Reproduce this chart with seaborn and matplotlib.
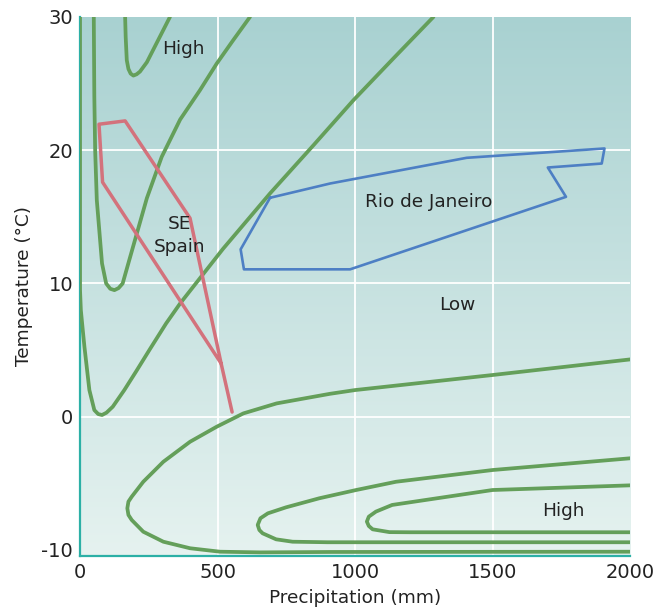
import numpy as np
import pandas as pd
import matplotlib
matplotlib.use("Agg")
import matplotlib.pyplot as plt
import seaborn as sns

# contour lines (precipitation mm, temperature C)
u_left_x = [50, 52, 55, 61, 70, 80, 95, 110, 125, 140, 155, 179, 210, 243, 297, 364, 436, 497, 555, 618]
u_left_y = [30, 24, 20, 16.25, 14, 11.5, 10, 9.6, 9.5, 9.65, 10, 11.75, 14, 16.4, 19.5, 22.3, 24.5, 26.5, 28.2, 30]

u_top_x = [164, 166, 170, 176, 184, 194, 206, 218, 243, 285, 327]
u_top_y = [30, 28.5, 26.75, 26.1, 25.75, 25.6, 25.7, 25.9, 26.6, 28.3, 30]

diag_x = [0, 0, 3, 10, 16, 34, 52, 66, 80, 96, 119, 161, 204, 255, 313, 364, 520, 691, 850, 994, 1140, 1285]
diag_y = [30, 9.5, 8.0, 6.5, 5.25, 2.0, 0.5, 0.2, 0.13, 0.3, 0.75, 2.0, 3.4, 5.1, 7.0, 8.5, 12.6, 16.76, 20.4, 23.75, 26.9, 30]

big_x = [2000, 1500, 1000, 909, 715, 594, 497, 400, 303, 230, 188, 176, 172, 176, 188, 230, 303, 400, 509, 655, 909, 2000]
big_y = [4.3, 3.13, 2.0, 1.72, 1.0, 0.25, -0.75, -1.88, -3.38, -4.88, -6.0, -6.37, -6.87, -7.37, -7.75, -8.63, -9.38, -9.87, -10.13, -10.18, -10.15, -10.13]

mid_x = [2000, 1500, 1149, 1004, 870, 749, 683, 656, 646, 652, 664, 713, 773, 900, 2000]
mid_y = [-3.12, -4.0, -4.88, -5.5, -6.12, -6.8, -7.25, -7.62, -8.12, -8.5, -8.75, -9.2, -9.38, -9.42, -9.42]

inner_x = [2000, 1500, 1135, 1076, 1050, 1043, 1050, 1064, 1125, 1200, 2000]
inner_y = [-5.15, -5.5, -6.62, -7.12, -7.5, -7.87, -8.2, -8.45, -8.66, -8.67, -8.67]

spain_x = [553, 513, 400, 164, 69, 82, 513]
spain_y = [0.35, 4.0, 14.9, 22.2, 21.95, 17.6, 4.0]

rio_x = [691, 909, 1406, 1907, 1897, 1701, 1767, 982, 596, 584, 691]
rio_y = [16.43, 17.5, 19.43, 20.13, 19.0, 18.7, 16.5, 11.06, 11.06, 12.56, 16.43]

labels = ["High", "SE\nSpain", "Rio de Janeiro", "Low", "High"]
label_x = [375, 362, 1269, 1371, 1756]
label_y = [27.6, 13.6, 16.1, 8.4, -7.1]

sns.set_theme(style="white")
plt.rcParams["font.family"] = ["DejaVu Sans"]
plt.rcParams["axes.unicode_minus"] = False

fig = plt.figure(figsize=(6.68, 6.14), dpi=100)
ax = fig.add_axes([0.1198, 0.0945, 0.8234, 0.8779])

xlim = (0, 2000)
ylim = (-10.45, 30)

# background gradient, teal at the top fading out toward the bottom
top = np.array([0.66, 0.82, 0.82])
bot = np.array([0.90, 0.95, 0.94])
t = np.linspace(0, 1, 256)[:, None]
grad = (top * (1 - t) + bot * t)[:, None, :]
ax.imshow(grad, extent=[xlim[0], xlim[1], ylim[0], ylim[1]], aspect="auto", zorder=0)

for v in [500, 1000, 1500]:
    ax.axvline(v, color="white", lw=1.3, zorder=1)
for v in [0, 10, 20]:
    ax.axhline(v, color="white", lw=1.3, zorder=1)

green = "#649f5a"
for cx, cy in [(u_left_x, u_left_y), (u_top_x, u_top_y), (diag_x, diag_y),
               (big_x, big_y), (mid_x, mid_y), (inner_x, inner_y)]:
    sns.lineplot(x=cx, y=cy, sort=False, estimator=None, color=green, lw=2.7,
                 solid_joinstyle="round", solid_capstyle="round", ax=ax, zorder=3)

sns.lineplot(x=spain_x, y=spain_y, sort=False, estimator=None, color="#d3727c",
             lw=2.5, solid_joinstyle="round", ax=ax, zorder=4)
sns.lineplot(x=rio_x, y=rio_y, sort=False, estimator=None, color="#4d7fc4",
             lw=1.9, ax=ax, zorder=4)

for s, lx, ly in zip(labels, label_x, label_y):
    ax.text(lx, ly, s, ha="center", va="center", fontsize=13.3, color="#222222",
            linespacing=1.3, zorder=5)

ax.set_xlim(*xlim)
ax.set_ylim(*ylim)
ax.set_xticks([0, 500, 1000, 1500, 2000])
ax.set_yticks([-10, 0, 10, 20, 30])
ax.tick_params(length=0, labelsize=14, colors="#222222", pad=5)
ax.grid(False)
for side in ["top", "right"]:
    ax.spines[side].set_visible(False)
for side in ["left", "bottom"]:
    ax.spines[side].set_color("#2cb0a6")
    ax.spines[side].set_linewidth(1.6)
    ax.spines[side].set_zorder(2)

ax.set_xlabel("Precipitation (mm)", fontsize=13.3, color="#222222", labelpad=5)
ax.set_ylabel("Temperature (°C)", fontsize=13.3, color="#222222", labelpad=6)

fig.savefig("out.png", dpi=100)
